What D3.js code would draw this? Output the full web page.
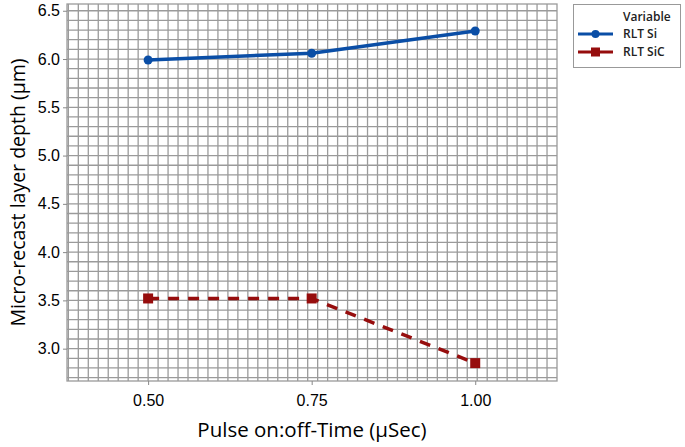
<!DOCTYPE html>
<html>
<head>
<meta charset="utf-8">
<script src="https://cdn.jsdelivr.net/npm/d3@7"></script>
<style>
  body { margin: 0; background: #fff; }
  svg { font-family: "Open Sans", sans-serif; }
  .grid line { stroke: #9a9a9a; stroke-width: 1.3px; }
  .tick text { font-size: 16px; fill: #000; }
</style>
</head>
<body>
<div id="chart"></div>
<script>
// data
const pulseTimes = [0.50, 0.75, 1.00];
const rltSi  = [5.99, 6.06, 6.29];
const rltSiC = [3.52, 3.52, 2.85];
const xTicks = [0.50, 0.75, 1.00];
const yTicks = [3.0, 3.5, 4.0, 4.5, 5.0, 5.5, 6.0, 6.5];
const seriesNames = ["RLT Si", "RLT SiC"];

const width = 685, height = 447;
const plot = {left: 67, right: 557, top: 4, bottom: 381};

const svg = d3.select("#chart").append("svg")
  .attr("width", width).attr("height", height);

const x = d3.scaleLinear().domain([0.376, 1.125]).range([plot.left, plot.right]);
const y = d3.scaleLinear().domain([2.665, 6.57]).range([plot.bottom, plot.top]);

// fine grid
const grid = svg.append("g").attr("class", "grid");
const vx = d3.range(0, 60).map(i => 0.50 + (i - 8) * 0.25 / 16.4).filter(v => x(v) > plot.left && x(v) < plot.right);
const hy = d3.range(0, 45).map(i => 2.7 + i * 0.1).filter(v => y(v) > plot.top && y(v) < plot.bottom);
grid.selectAll(".v").data(vx).join("line")
  .attr("x1", d => x(d)).attr("x2", d => x(d))
  .attr("y1", plot.top).attr("y2", plot.bottom);
grid.selectAll(".h").data(hy).join("line")
  .attr("x1", plot.left).attr("x2", plot.right)
  .attr("y1", d => y(d)).attr("y2", d => y(d));
svg.append("rect")
  .attr("x", plot.left).attr("y", plot.top)
  .attr("width", plot.right - plot.left).attr("height", plot.bottom - plot.top)
  .attr("fill", "none").attr("stroke", "#9a9a9a").attr("stroke-width", 1.3);

// axes
const xAxis = svg.append("g")
  .attr("transform", `translate(0,${plot.bottom})`)
  .call(d3.axisBottom(x).tickValues(xTicks).tickFormat(d3.format(".2f")).tickSize(4).tickPadding(10));
const yAxis = svg.append("g")
  .attr("transform", `translate(${plot.left},0)`)
  .call(d3.axisLeft(y).tickValues(yTicks).tickFormat(d3.format(".1f")).tickSize(4).tickPadding(3));
[xAxis, yAxis].forEach(a => {
  a.select(".domain").remove();
  a.selectAll(".tick line").attr("stroke", "#888");
});

svg.append("text")
  .attr("x", 312).attr("y", 437)
  .attr("text-anchor", "middle")
  .style("font-size", "20.5px").attr("fill", "#000")
  .text("Pulse on:off-Time (µSec)");
svg.append("text")
  .attr("transform", `translate(25,${(plot.top + plot.bottom) / 2}) rotate(-90)`)
  .attr("text-anchor", "middle")
  .style("font-size", "19.5px").attr("fill", "#000")
  .text("Micro-recast layer depth (µm)");

// series
const line = d3.line().x(d => x(d[0])).y(d => y(d[1]));
const siData = pulseTimes.map((t, i) => [t, rltSi[i]]);
const sicData = pulseTimes.map((t, i) => [t, rltSiC[i]]);
const blue = "#0a4ea6", red = "#960d0d";

svg.append("path").datum(siData).attr("d", line)
  .attr("fill", "none").attr("stroke", blue).attr("stroke-width", 3.5);
svg.selectAll(".si").data(siData).join("circle")
  .attr("cx", d => x(d[0])).attr("cy", d => y(d[1])).attr("r", 4.5).attr("fill", blue);

svg.append("path").datum(sicData).attr("d", line)
  .attr("fill", "none").attr("stroke", red).attr("stroke-width", 3.5)
  .attr("stroke-dasharray", "11,9");
svg.selectAll(".sic").data(sicData).join("rect")
  .attr("x", d => x(d[0]) - 5).attr("y", d => y(d[1]) - 5)
  .attr("width", 10).attr("height", 10).attr("fill", red);

// legend
const lg = svg.append("g");
lg.append("rect").attr("x", 573.5).attr("y", 4.5).attr("width", 107).attr("height", 63)
  .attr("fill", "#fff").attr("stroke", "#999");
lg.append("text").attr("x", 623).attr("y", 21).style("font-size", "12px").style("font-weight", 600).attr("fill", "#222").text("Variable");
seriesNames.forEach((name, i) => {
  const yy = 34 + i * 18;
  lg.append("line").attr("x1", 578).attr("x2", 613).attr("y1", yy).attr("y2", yy)
    .attr("stroke", i ? red : blue).attr("stroke-width", 3);
  if (i) lg.append("rect").attr("x", 591).attr("y", yy - 4.5).attr("width", 9).attr("height", 9).attr("fill", red);
  else lg.append("circle").attr("cx", 595.5).attr("cy", yy).attr("r", 4).attr("fill", blue);
  lg.append("text").attr("x", 623).attr("y", yy + 4).style("font-size", "12px").style("font-weight", 600).attr("fill", "#222").text(name);
});
</script>
</body>
</html>
